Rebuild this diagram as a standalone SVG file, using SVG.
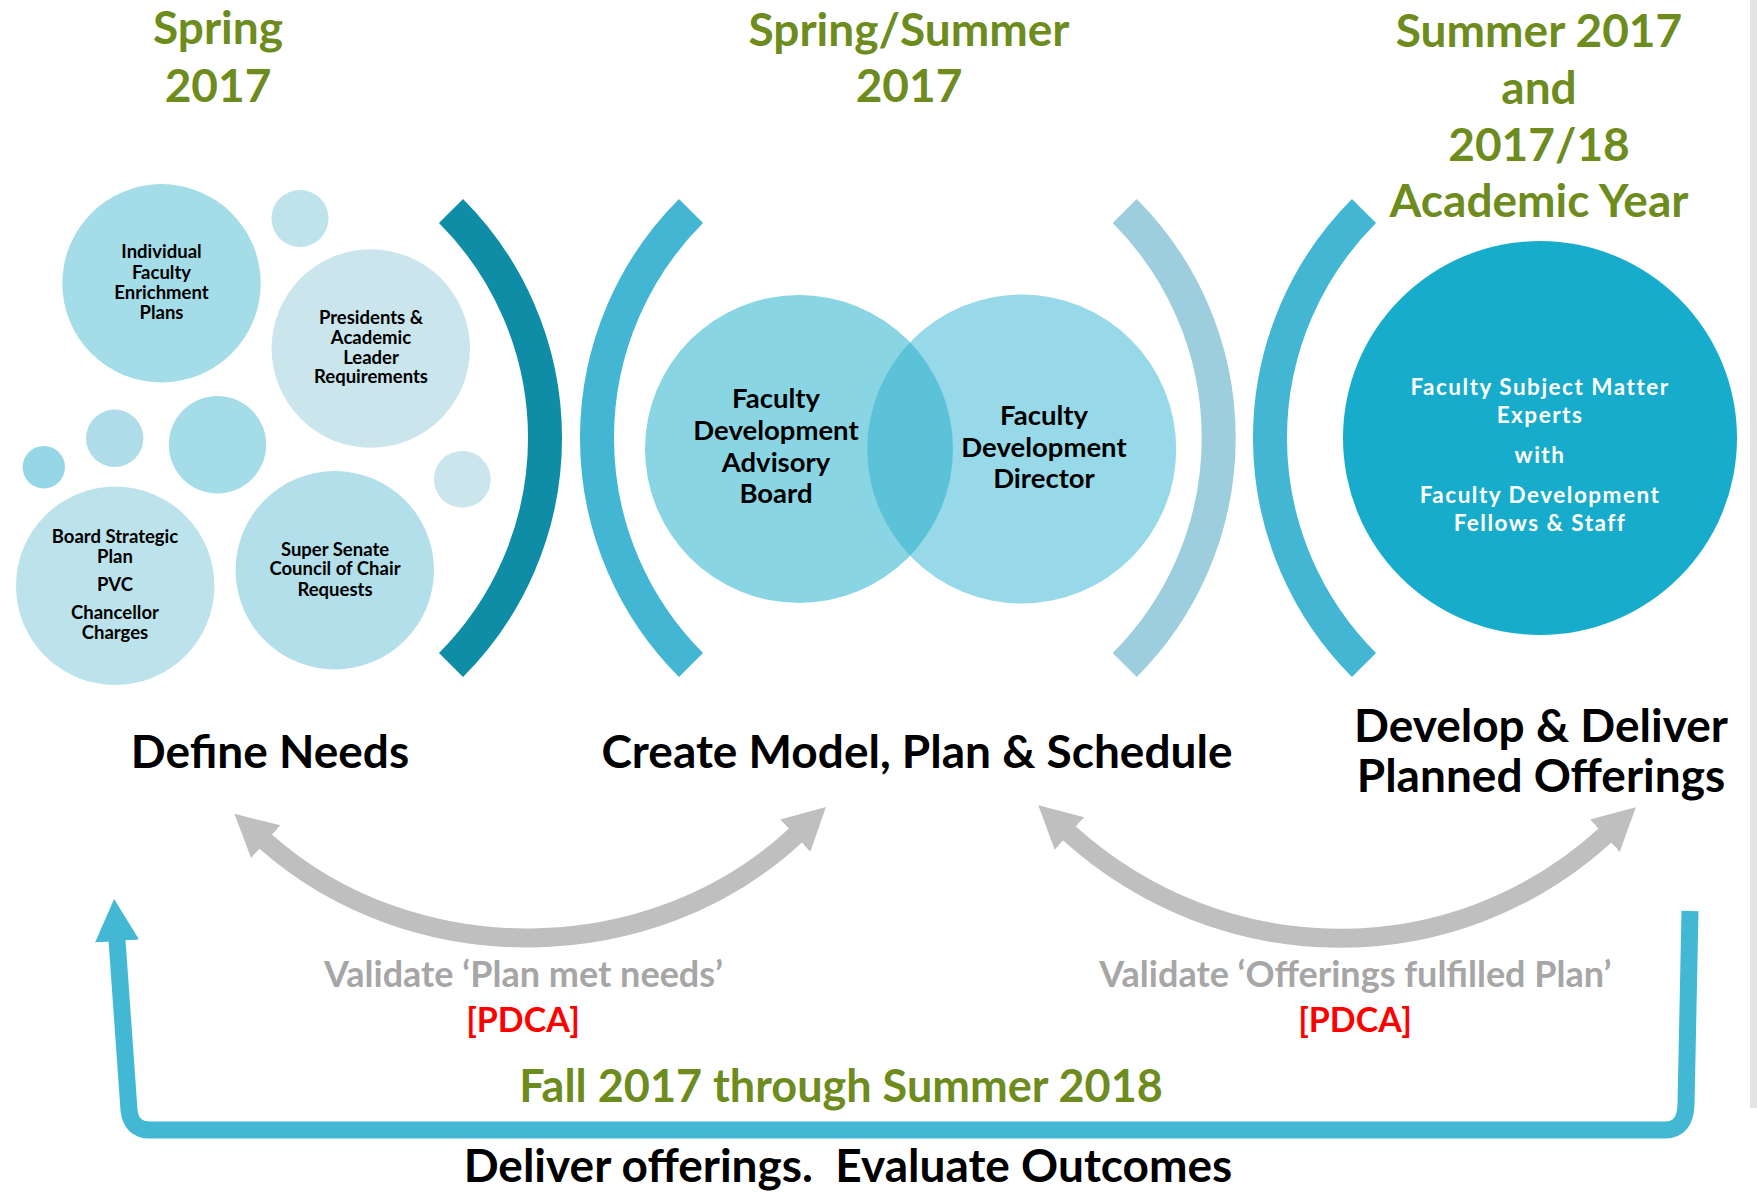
<svg xmlns="http://www.w3.org/2000/svg" width="1757" height="1194" viewBox="0 0 1757 1194">
<style>
text{font-family:Lato,"Open Sans","Liberation Sans",sans-serif;font-weight:bold;text-anchor:middle}
.head{fill:#6E8C1E;font-size:46px}
.small{fill:#000;font-size:18.5px}
.venn{fill:#000;font-size:27.5px}
.white{fill:#fff;font-size:22.5px;letter-spacing:1.5px}
.label{fill:#000;font-size:46px}
.val{fill:#A6A6A6;font-size:36px}
.pdca{fill:#FF0000;font-size:34px}
.brk{fill:none;stroke-width:34}
.garrow{fill:none;stroke:#BFBFBF;stroke-width:19}
</style>
<defs>
<marker id="gh" markerUnits="userSpaceOnUse" markerWidth="44" markerHeight="46" viewBox="0 -23 44 46" refX="1" refY="0" orient="auto-start-reverse">
<path d="M0,-22 L42,0 L0,22 Z" fill="#BFBFBF"/>
</marker>
<marker id="bh" markerUnits="userSpaceOnUse" markerWidth="44" markerHeight="46" viewBox="0 -23 44 46" refX="1" refY="0" orient="auto">
<path d="M0,-22 L42,0 L0,22 Z" fill="#43B8D4"/>
</marker>
<clipPath id="vennL"><circle cx="799" cy="449" r="154"/></clipPath>
</defs>
<rect x="0" y="0" width="1757" height="1194" fill="#fff"/>
<rect x="1750" y="0" width="7" height="1108" fill="#E3E3E3"/>

<g id="headings">
<text class="head" x="218" y="44">Spring</text>
<text class="head" x="218" y="102">2017</text>
<text class="head" x="909" y="46">Spring/Summer</text>
<text class="head" x="909" y="102">2017</text>
<text class="head" x="1539" y="47">Summer 2017</text>
<text class="head" x="1539" y="104">and</text>
<text class="head" x="1539" y="161">2017/18</text>
<text class="head" x="1539" y="217">Academic Year</text>
</g>

<g id="brackets">
<path class="brk" stroke="#0F8CA6" d="M451,211 A321,321 0 0 1 451,665"/>
<path class="brk" stroke="#43B6D4" d="M691,211 A321,321 0 0 0 691,665"/>
<path class="brk" stroke="#9DCEDD" d="M1124.7,211 A321,321 0 0 1 1124.7,665"/>
<path class="brk" stroke="#43B6D4" d="M1364,211 A321,321 0 0 0 1364,665"/>
</g>

<g id="bubbles">
<circle cx="300" cy="218.5" r="28.5" fill="#BFE3EB"/>
<circle cx="114.7" cy="438.3" r="28.7" fill="#AEDDE9"/>
<circle cx="217.5" cy="444.7" r="48.7" fill="#A4DCE8"/>
<circle cx="43.8" cy="467.2" r="21.2" fill="#95D7E6"/>
<circle cx="462.3" cy="479.3" r="28.4" fill="#CBE5EC"/>
</g>

<g id="node-individual">
<circle cx="161.5" cy="283.3" r="99.2" fill="#A4DCE8"/>
<text class="small" x="161.5" y="258">Individual</text>
<text class="small" x="161.5" y="279">Faculty</text>
<text class="small" x="161.5" y="299">Enrichment</text>
<text class="small" x="161.5" y="319">Plans</text>
</g>
<g id="node-presidents">
<circle cx="370.8" cy="348.5" r="99.2" fill="#CBE5EC"/>
<text class="small" x="371" y="324">Presidents &amp;</text>
<text class="small" x="371" y="344">Academic</text>
<text class="small" x="371" y="364">Leader</text>
<text class="small" x="371" y="383">Requirements</text>
</g>
<g id="node-board">
<circle cx="115.2" cy="585.8" r="99.2" fill="#BCE2EB"/>
<text class="small" x="115" y="543">Board Strategic</text>
<text class="small" x="115" y="563">Plan</text>
<text class="small" x="115" y="591">PVC</text>
<text class="small" x="115" y="619">Chancellor</text>
<text class="small" x="115" y="639">Charges</text>
</g>
<g id="node-senate">
<circle cx="334.8" cy="570.2" r="99.2" fill="#B2DFEA"/>
<text class="small" x="335" y="556">Super Senate</text>
<text class="small" x="335" y="575">Council of Chair</text>
<text class="small" x="335" y="596">Requests</text>
</g>

<g id="node-advisory">
<circle cx="799" cy="449" r="154" fill="#8AD5E4"/>
</g>
<g id="node-director">
<circle cx="1021.7" cy="449" r="154.5" fill="#97D9E8"/>
<circle cx="1021.7" cy="449" r="154.5" fill="#5BC2D8" clip-path="url(#vennL)"/>
</g>
<g id="venn-labels">
<text class="venn" x="776" y="408">Faculty</text>
<text class="venn" x="776" y="440">Development</text>
<text class="venn" x="776" y="472">Advisory</text>
<text class="venn" x="776" y="503">Board</text>
<text class="venn" x="1044" y="425">Faculty</text>
<text class="venn" x="1044" y="457">Development</text>
<text class="venn" x="1044" y="488">Director</text>
</g>

<g id="node-experts">
<circle cx="1540" cy="438" r="197" fill="#17ACCB"/>
<text class="white" x="1540" y="395">Faculty Subject Matter</text>
<text class="white" x="1540" y="423">Experts</text>
<text class="white" x="1540" y="463">with</text>
<text class="white" x="1540" y="503">Faculty Development</text>
<text class="white" x="1540" y="531">Fellows &amp; Staff</text>
</g>

<g id="stage-labels">
<text class="label" x="270" y="768">Define Needs</text>
<text class="label" x="917" y="768">Create Model, Plan &amp; Schedule</text>
<text class="label" x="1541" y="742">Develop &amp; Deliver</text>
<text class="label" x="1541" y="792">Planned Offerings</text>
</g>

<g id="connectors">
<path class="garrow" d="M265,841 C412.6,972.5 651.4,970.1 796,835" marker-start="url(#gh)" marker-end="url(#gh)"/>
<path class="garrow" d="M1068.7,832.8 C1222.1,971.7 1452.8,974.5 1605.6,835" marker-start="url(#gh)" marker-end="url(#gh)"/>
<path fill="none" stroke="#43B8D4" stroke-width="17" stroke-linejoin="round" d="M1690,911 L1686,1105 Q1685,1130 1665,1130 L150,1130 Q131,1130 129,1110 L117,940" marker-end="url(#bh)"/>
</g>

<g id="validate-labels">
<text class="val" x="523.5" y="987">Validate ‘Plan met needs’</text>
<text class="pdca" x="523" y="1032">[PDCA]</text>
<text class="val" x="1355.4" y="987">Validate ‘Offerings fulfilled Plan’</text>
<text class="pdca" x="1355" y="1032">[PDCA]</text>
<text class="head" style="font-size:45px" x="841" y="1102">Fall 2017 through Summer 2018</text>
<text class="label" style="font-size:46px" x="848" y="1182" xml:space="preserve">Deliver offerings.  Evaluate Outcomes</text>
</g>
</svg>
